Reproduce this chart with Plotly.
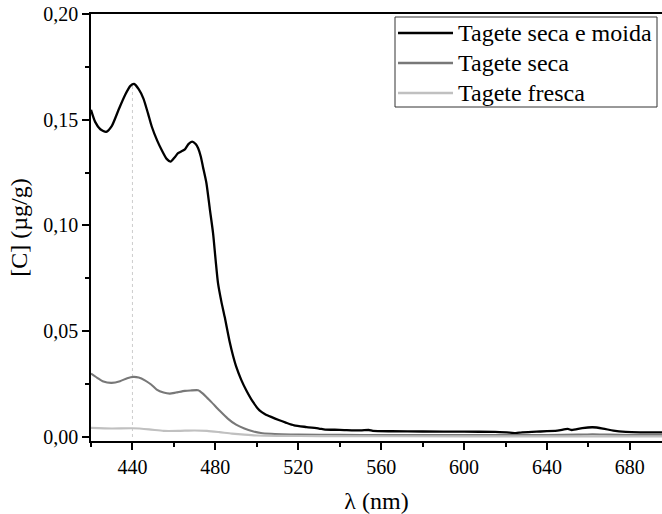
import plotly.graph_objects as go

# --- data ---
wl_moida = [420, 422, 424.5, 427.3, 430, 433.3, 436.5, 439, 440.8, 443, 445.3, 447.5, 449.3, 452,
            454.1, 456.5, 458.4, 460.2, 462, 463.5, 465.3, 467, 468.8, 470.5, 471.7, 473, 474,
            475.7, 477.3, 478.9, 480.1, 481.3, 482.9, 484.5, 486.9, 488.5, 490.1, 492.5, 494.9,
            498, 501.3, 504, 506.9, 510.9, 514, 518, 524, 530, 533, 540, 550, 554, 556, 565, 580,
            600, 615, 622, 625, 628, 635, 645, 650, 652, 657, 662, 667, 672, 678, 685, 696]
c_moida = [0.1547, 0.1490, 0.1455, 0.1443, 0.1470, 0.1547, 0.1618, 0.1660, 0.1669, 0.1645, 0.1600,
           0.1530, 0.1468, 0.1400, 0.1357, 0.1315, 0.1302, 0.1320, 0.1342, 0.1350, 0.1360, 0.1385,
           0.1397, 0.1385, 0.1365, 0.1325, 0.1278, 0.1200, 0.1080, 0.0963, 0.0840, 0.0726, 0.0640,
           0.0568, 0.0450, 0.0385, 0.0331, 0.0270, 0.0221, 0.0168, 0.0126, 0.0108, 0.0095, 0.0079,
           0.0068, 0.0055, 0.0047, 0.0040, 0.0035, 0.0034, 0.0031, 0.0033, 0.0029, 0.0027, 0.0026,
           0.0025, 0.0024, 0.0021, 0.0018, 0.0022, 0.0025, 0.0030, 0.0038, 0.0033, 0.0042, 0.0046,
           0.0040, 0.0030, 0.0024, 0.0022, 0.0022]

wl_seca = [420, 423, 426, 430, 434, 437.5, 440.5, 443, 446, 449, 451.7, 455, 458, 461, 465.3, 468,
           471.7, 474, 476, 478, 482, 486, 490, 494, 498, 502, 507, 512, 520, 540, 560, 600, 640,
           655, 662, 670, 680, 696]
c_seca = [0.0300, 0.0280, 0.0262, 0.0256, 0.0264, 0.0278, 0.0284, 0.0281, 0.0268, 0.0248, 0.0224,
          0.0210, 0.0205, 0.0210, 0.0218, 0.0220, 0.0221, 0.0205, 0.0185, 0.0166, 0.0125, 0.0087,
          0.0058, 0.0040, 0.0027, 0.0019, 0.0015, 0.0013, 0.0011, 0.0010, 0.0009, 0.0009, 0.0009,
          0.0011, 0.0013, 0.0011, 0.0009, 0.0009]

wl_fresca = [420, 430, 440, 448, 455, 462, 470, 476, 482, 488, 494, 500, 510, 530, 600, 696]
c_fresca = [0.0043, 0.0040, 0.0041, 0.0036, 0.0029, 0.0029, 0.0031, 0.0029, 0.0023, 0.0016,
            0.0011, 0.0007, 0.0005, 0.0004, 0.0003, 0.0003]

names = ["Tagete seca e moida", "Tagete seca", "Tagete fresca"]
colors = ["#000000", "#787878", "#c0c0c0"]
marker_wl = 440
marker_c = 0.1668

FONT = "Liberation Serif, DejaVu Serif, serif"

W, H = 662, 514
ML, MR, MT, MB = 91, 0, 14, 73
PW, PH = W - ML - MR, H - MT - MB


def px(x):
    return (x - ML) / PW


def py(y):
    return (H - MB - y) / PH


fig = go.Figure()
fig.add_trace(go.Scatter(x=[marker_wl, marker_wl], y=[0, marker_c], mode="lines",
                         line=dict(color="#cccccc", width=1, dash="dot"),
                         showlegend=False, hoverinfo="skip"))
for wl, c, n, col, w in [(wl_moida, c_moida, names[0], colors[0], 2.3),
                         (wl_seca, c_seca, names[1], colors[1], 2.1),
                         (wl_fresca, c_fresca, names[2], colors[2], 2.1)]:
    fig.add_trace(go.Scatter(x=wl, y=c, mode="lines", name=n, showlegend=False,
                             line=dict(color=col, width=w, shape="spline", smoothing=0.6)))

# legend box drawn manually (to match the reference's spacing)
shapes = [dict(type="rect", xref="paper", yref="paper", x0=px(395), x1=px(657), y0=py(107), y1=py(17),
               line=dict(color="#333333", width=1), fillcolor="white", layer="above")]
annotations = []
for i, (n, col) in enumerate(zip(names, colors)):
    yc = 33 + 30 * i
    shapes.append(dict(type="line", xref="paper", yref="paper", x0=px(398), x1=px(453), y0=py(yc), y1=py(yc),
                       line=dict(color=col, width=2.3), layer="above"))
    annotations.append(dict(xref="paper", yref="paper", x=px(456), y=py(yc), xanchor="left", yanchor="middle",
                            text=n, showarrow=False, font=dict(family=FONT, size=24, color="black")))

fig.update_layout(
    width=W, height=H,
    margin=dict(l=ML, r=MR, t=MT, b=MB),
    paper_bgcolor="white", plot_bgcolor="white",
    separators=",.",
    font=dict(family=FONT, size=20, color="black"),
    showlegend=False,
    shapes=shapes, annotations=annotations,
    xaxis=dict(range=[420, 695.5], showgrid=False, zeroline=False,
               showline=True, linecolor="black", linewidth=1.6, mirror=True,
               ticks="outside", ticklen=7, tickwidth=1.5, tickcolor="black",
               tick0=440, dtick=40,
               minor=dict(ticks="outside", ticklen=4, tickwidth=1.5, tickcolor="black", dtick=20, tick0=420),
               title=dict(text="λ (nm)", font=dict(family=FONT, size=24), standoff=19)),
    yaxis=dict(range=[-0.0019, 0.2], showgrid=False, zeroline=False,
               showline=True, linecolor="black", linewidth=1.6,
               ticks="outside", ticklen=7, tickwidth=1.5, tickcolor="black",
               tick0=0, dtick=0.05, tickformat=".2f",
               minor=dict(ticks="outside", ticklen=4, tickwidth=1.5, tickcolor="black", dtick=0.025),
               title=dict(text="[C] (µg/g)", font=dict(family=FONT, size=24), standoff=9)),
)

fig.write_html("out.html")
